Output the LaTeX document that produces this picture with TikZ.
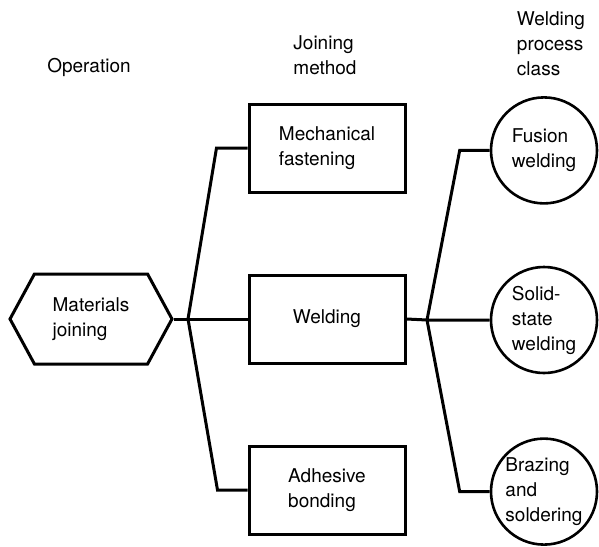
\documentclass[tikz,border=0pt]{standalone}
\usepackage{fontspec}
\setmainfont{TeX Gyre Heros}
\usetikzlibrary{positioning,shapes.geometric,shapes.symbols}

\begin{document}
\begin{tikzpicture}[
  x=1pt,y=-1pt,
  heading/.style={
    align=left,
    inner sep=0pt,
    font=\fontsize{19}{25}\selectfont
  },
  operation/.style={
    draw,
    signal,
    signal to=west and east,
    signal pointer angle=123,
    minimum width=162pt,
    minimum height=90pt,
    line width=3pt,
    align=left,
    font=\fontsize{19}{25}\selectfont
  },
  method/.style={
    draw,
    minimum width=156pt,
    minimum height=88pt,
    line width=3pt,
    align=left,
    font=\fontsize{19}{25}\selectfont
  },
  process/.style={
    draw,
    circle,
    minimum size=106pt,
    inner sep=0pt,
    line width=2.6pt,
    align=left,
    font=\fontsize{19}{25}\selectfont
  },
  link/.style={line width=3pt}
]
  \useasboundingbox (0,0) rectangle (599,546);
  % column headings
  \node[heading] (hop) at (89,67) {Operation};
  \node[heading] (hjm) at (325,55) {Joining\\method};
  \node[heading] (hwp) at (551,44) {Welding\\process\\class};
  % tree
  \node[operation] (materials) at (91,319) {Materials\\joining};
  \node[method] (welding) at (327,319) {Welding};
  \node[method,above=80pt of welding] (mechanical) {Mechanical\\fastening};
  \node[method,below=80pt of welding] (adhesive) {Adhesive\\bonding};
  \node[process] (solid) at (544,320) {Solid-\\state\\welding};
  \node[process,above=61pt of solid] (fusion) {Fusion\\welding};
  \node[process,below=63pt of solid] (brazing) {Brazing\\and\\soldering};
  \coordinate (jleft) at (188,319);
  \coordinate (jright) at (427,320);
  \draw[link] (materials.east) -- (jleft) -- (welding.west);
  \draw[link] (jleft) -- ([xshift=-31pt]mechanical.west) -- (mechanical.west);
  \draw[link] (jleft) -- ([xshift=-30pt]adhesive.west) -- (adhesive.west);
  \draw[link] (welding.east) -- (jright) -- (solid.west);
  \draw[link] (jright) -- ([xshift=-30pt]fusion.west) -- (fusion.west);
  \draw[link] (jright) -- ([xshift=-30pt]brazing.west) -- (brazing.west);
\end{tikzpicture}
\end{document}
